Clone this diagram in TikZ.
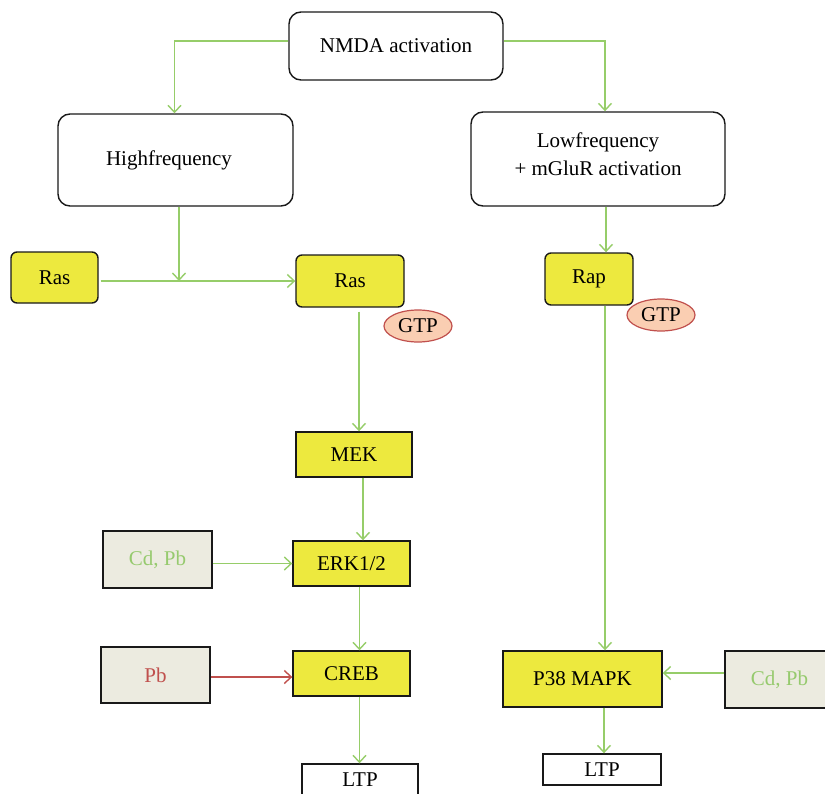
\documentclass[tikz,border=0pt]{standalone}
\usepackage{fontspec}
\setmainfont{Liberation Serif}
\usetikzlibrary{arrows.meta,shapes.geometric}
\definecolor{lgreen}{RGB}{150,205,105}
\definecolor{tgreen}{RGB}{150,202,110}
\definecolor{yel}{RGB}{237,233,62}
\definecolor{gbox}{RGB}{236,235,224}
\definecolor{gtpfill}{RGB}{250,206,178}
\definecolor{rd}{RGB}{192,80,77}
\definecolor{bord}{RGB}{25,25,25}
\tikzset{
  base/.style={draw=bord, line width=1.4pt, inner sep=0pt, align=center, font=\fontsize{21}{28}\selectfont},
  wbox/.style={base, rounded corners=12pt, fill=white},
  yround/.style={base, rounded corners=6pt, fill=yel},
  ybox/.style={base, fill=yel},
  gbx/.style={base, fill=gbox},
  ltpbox/.style={base, fill=white},
  gtp/.style={ellipse, draw=rd, line width=1.2pt, fill=gtpfill, inner sep=0pt, font=\fontsize{21}{24}\selectfont},
  arr/.style={draw=lgreen, line width=1.5pt, -{Straight Barb[length=7pt,width=13pt,line width=1.4pt]}},
  arrR/.style={draw=rd, line width=1.5pt, -{Straight Barb[length=7pt,width=13pt,line width=1.4pt]}},
}
\begin{document}
\begin{tikzpicture}[x=1pt,y=-1pt]
\useasboundingbox (0,0) rectangle (825,793);
\node[wbox, minimum width=214pt, minimum height=68pt] (nmda) at (396,46) {NMDA activation};
\node[wbox, minimum width=235pt, minimum height=92pt] (high) at (175.5,160) {};
\node[font=\fontsize{21}{28}\selectfont, inner sep=0pt] (hight) at (169,160) {Highfrequency};
\node[wbox, minimum width=254pt, minimum height=94pt] (low) at (598,159) {};
\node[font=\fontsize{21}{28}\selectfont, inner sep=0pt, align=center] (lowt) at (598,154) {Lowfrequency\\+ mGluR activation};
\node[yround, minimum width=87pt, minimum height=51pt] (rasL) at (54.5,277.5) {Ras};
\node[yround, minimum width=108pt, minimum height=52pt] (rasR) at (350,281) {Ras};
\node[gtp, minimum width=68pt, minimum height=32pt] (gtp1) at (418,326) {GTP};
\node[yround, minimum width=88pt, minimum height=52pt] (rap) at (589,279) {Rap};
\node[gtp, minimum width=68pt, minimum height=32pt] (gtp2) at (661,315) {GTP};
\node[ybox, minimum width=116pt, minimum height=45pt] (mek) at (354,454.5) {MEK};
\node[ybox, minimum width=117pt, minimum height=45pt] (erk) at (351.5,563.5) {ERK1/2};
\node[gbx, minimum width=109pt, minimum height=57pt, text=tgreen] (cdpb1) at (157.5,559.5) {Cd, Pb};
\node[ybox, minimum width=117pt, minimum height=45pt] (creb) at (351.5,673.5) {CREB};
\node[gbx, minimum width=109pt, minimum height=56pt, text=rd] (pb) at (155.5,675) {Pb};
\node[ltpbox, minimum width=116pt, minimum height=31pt] (ltp1) at (360,779.5) {LTP};
\node[ybox, minimum width=159pt, minimum height=56pt] (p38) at (582.5,679) {P38 MAPK};
\node[gbx, minimum width=109pt, minimum height=57pt, text=tgreen] (cdpb2) at (779.5,679.5) {Cd, Pb};
\node[ltpbox, minimum width=118pt, minimum height=31pt] (ltp2) at (602,769.5) {LTP};
\coordinate (j) at (179,281);
% connectors
\draw[arr] ([yshift=5pt]nmda.west) -| ([xshift=-1pt]high.north);
\draw[arr] ([yshift=5pt]nmda.east) -| ([xshift=7pt]low.north);
\draw[arr] (high.south -| j) -- (j);
\draw[arr] ([xshift=2pt]rasL.east |- j) -- (rasR.west |- j);
\draw[arr] ([xshift=9pt,yshift=-4pt]rasR.south) -- ([xshift=9pt]rasR.south |- mek.north);
\draw[arr] ([xshift=9pt]mek.south) -- ([xshift=9pt]mek.south |- erk.north);
\draw[arr] ([xshift=8pt]erk.south) -- ([xshift=8pt]erk.south |- creb.north);
\draw[arr] ([xshift=8pt]creb.south) -- ([xshift=8pt]creb.south |- ltp1.north);
\draw[arr] (cdpb1.east |- erk.west) -- (erk.west);
\draw[arrR] ([yshift=-2pt]pb.east) -- ([yshift=-2pt]pb.east -| creb.west);
\draw[arr] ([xshift=8pt]low.south) -- ([xshift=8pt]low.south |- rap.north);
\draw[arr] ([xshift=16pt]rap.south) -- ([xshift=16pt]rap.south |- p38.north);
\draw[arr] ([yshift=6.5pt]cdpb2.west) -- ([yshift=6.5pt]cdpb2.west -| p38.east);
\draw[arr] ([xshift=21.5pt]p38.south) -- ([xshift=21.5pt]p38.south |- ltp2.north);
\end{tikzpicture}
\end{document}
